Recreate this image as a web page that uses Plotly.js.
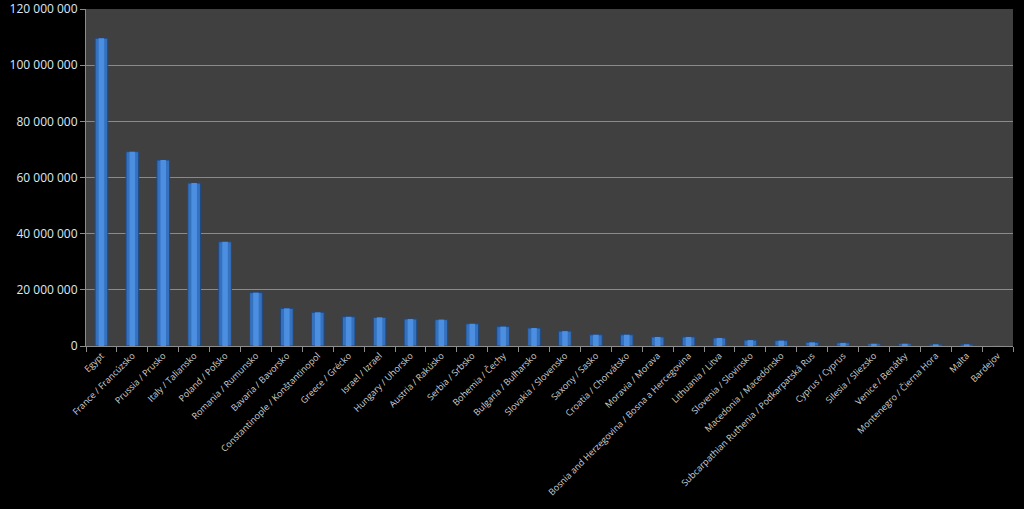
<!DOCTYPE html>
<html><head><meta charset="utf-8">
<script src="https://cdn.plot.ly/plotly-3.0.1.min.js"></script>
<style>html,body{margin:0;padding:0;background:#000;}#chart{width:1024px;height:509px;}</style>
</head><body><div id="chart"></div>
<script>
const categories = ["Egypt","France / Francúzsko","Prussia / Prusko","Italy / Taliansko","Poland / Poľsko","Romania / Rumunsko","Bavaria / Bavorsko","Constantinople / Konštantinopol","Greece / Grécko","Israel / Izrael","Hungary / Uhorsko","Austria / Rakúsko","Serbia / Srbsko","Bohemia / Čechy","Bulgaria / Bulharsko","Slovakia / Slovensko","Saxony / Sasko","Croatia / Chorvátsko","Moravia / Morava","Bosnia and Herzegovina / Bosna a Hercegovina","Lithuania / Litva","Slovenia / Slovinsko","Macedonia / Macedónsko","Subcarpathian Ruthenia / Podkarpatská Rus","Cyprus / Cyprus","Silesia / Sliezsko","Venice / Benátky","Montenegro / Čierna Hora","Malta","Bardejov"];
const values = [109600000,69200000,66200000,58000000,37100000,19000000,13400000,12000000,10400000,10200000,9600000,9400000,7900000,6900000,6400000,5300000,4000000,4000000,3200000,3200000,2850000,2100000,1900000,1300000,1100000,800000,800000,600000,600000,30000];
const yTicks = [0,20000000,40000000,60000000,80000000,100000000,120000000];

const traces = [
  {type:'bar', x:categories, y:values, width:0.41,
   marker:{color:'#3671BE', line:{color:'#1E4A85', width:1}}, hoverinfo:'x+y'},
  {type:'bar', x:categories, y:values, width:0.18,
   marker:{color:'#4C8EE0', line:{width:0}}, hoverinfo:'skip'}
];
const layout = {
  width:1024, height:509,
  paper_bgcolor:'#000000', plot_bgcolor:'#404040',
  margin:{l:86, r:11, t:9, b:163},
  barmode:'overlay', showlegend:false,
  separators:', ',
  font:{family:'Open Sans, sans-serif', size:11, color:'#d9d9d9'},
  xaxis:{type:'category', tickangle:-45, tickson:'boundaries', ticks:'outside', ticklen:5,
    tickcolor:'#8c8c8c', showline:true, linecolor:'#8c8c8c', linewidth:1, showgrid:false,
    tickfont:{family:'Open Sans, sans-serif', size:9, color:'#d0d0d0'}},
  yaxis:{range:[0,120000000], tickvals:yTicks, tickformat:',d', ticks:'outside', ticklen:5,
    tickcolor:'#8c8c8c', showline:true, linecolor:'#8c8c8c', linewidth:1,
    gridcolor:'#8a8a8a', gridwidth:1, zeroline:false,
    tickfont:{family:'Open Sans, sans-serif', size:12, color:'#dde8f5'}}
};
Plotly.newPlot('chart', traces, layout, {displayModeBar:false, staticPlot:true});
</script></body></html>
